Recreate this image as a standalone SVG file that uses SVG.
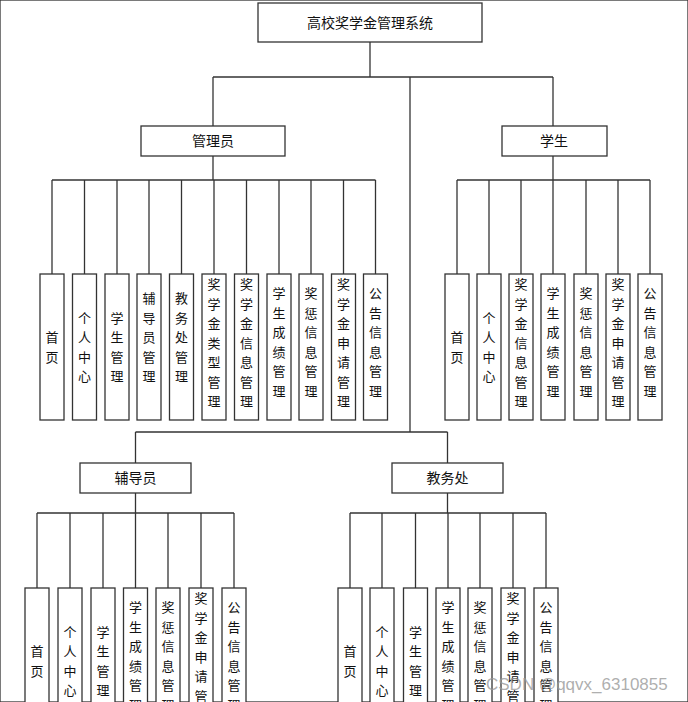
<svg xmlns="http://www.w3.org/2000/svg" width="688" height="702" viewBox="0 0 688 702">
<style>
rect{fill:#fff;stroke:#333;stroke-width:1.3}
.c line{stroke:#333;stroke-width:1.3;fill:none}
text{font-family:"Noto Sans CJK SC",sans-serif;font-size:14px;fill:#111;text-anchor:middle}
.v{font-size:13px}
</style>
<rect width="688" height="702" fill="#fff" stroke="none"/>
<g class="c">
<line x1="370" y1="42" x2="370" y2="77"/>
<line x1="213" y1="77" x2="553" y2="77"/>
<line x1="213" y1="77" x2="213" y2="126"/>
<line x1="553" y1="77" x2="553" y2="126"/>
<line x1="410" y1="77" x2="410" y2="432"/>
<line x1="213" y1="156" x2="213" y2="180"/>
<line x1="52" y1="180" x2="375.5" y2="180"/>
<line x1="553" y1="156" x2="553" y2="180"/>
<line x1="457" y1="180" x2="650" y2="180"/>
<line x1="135.5" y1="432" x2="447.5" y2="432"/>
<line x1="135.5" y1="432" x2="135.5" y2="463"/>
<line x1="447.5" y1="432" x2="447.5" y2="463"/>
<line x1="135.5" y1="493" x2="135.5" y2="513"/>
<line x1="37" y1="513" x2="234" y2="513"/>
<line x1="447.5" y1="493" x2="447.5" y2="513"/>
<line x1="350" y1="513" x2="546" y2="513"/>
<line x1="52" y1="180" x2="52" y2="274"/><line x1="84.5" y1="180" x2="84.5" y2="274"/><line x1="117" y1="180" x2="117" y2="274"/><line x1="149" y1="180" x2="149" y2="274"/><line x1="181.5" y1="180" x2="181.5" y2="274"/><line x1="214" y1="180" x2="214" y2="274"/><line x1="246.5" y1="180" x2="246.5" y2="274"/><line x1="279" y1="180" x2="279" y2="274"/><line x1="311" y1="180" x2="311" y2="274"/><line x1="343.5" y1="180" x2="343.5" y2="274"/><line x1="375.5" y1="180" x2="375.5" y2="274"/>
<line x1="457" y1="180" x2="457" y2="274"/><line x1="489" y1="180" x2="489" y2="274"/><line x1="521" y1="180" x2="521" y2="274"/><line x1="553" y1="180" x2="553" y2="274"/><line x1="586" y1="180" x2="586" y2="274"/><line x1="618" y1="180" x2="618" y2="274"/><line x1="650" y1="180" x2="650" y2="274"/>
<line x1="37" y1="513" x2="37" y2="588"/><line x1="70" y1="513" x2="70" y2="588"/><line x1="103" y1="513" x2="103" y2="588"/><line x1="135.5" y1="513" x2="135.5" y2="588"/><line x1="168" y1="513" x2="168" y2="588"/><line x1="201" y1="513" x2="201" y2="588"/><line x1="234" y1="513" x2="234" y2="588"/>
<line x1="350" y1="513" x2="350" y2="588"/><line x1="382" y1="513" x2="382" y2="588"/><line x1="415.5" y1="513" x2="415.5" y2="588"/><line x1="448" y1="513" x2="448" y2="588"/><line x1="480" y1="513" x2="480" y2="588"/><line x1="513" y1="513" x2="513" y2="588"/><line x1="546" y1="513" x2="546" y2="588"/>
</g>
<g id="root"><rect x="258" y="3" width="224" height="39"/><text x="370" y="28">高校奖学金管理系统</text></g>
<g id="admin"><rect x="141" y="126" width="144" height="30"/><text x="213" y="146">管理员</text></g>
<g id="student"><rect x="502" y="126" width="105" height="30"/><text x="554" y="146">学生</text></g>
<g id="counselor"><rect x="80" y="463" width="111" height="30"/><text x="135.5" y="483">辅导员</text></g>
<g id="office"><rect x="392" y="463" width="111" height="30"/><text x="447.5" y="483">教务处</text></g>

<g id="admin-leaves">
<g id="a1"><rect x="40" y="274" width="24" height="146"/><text class="v"><tspan x="52" y="342">首</tspan><tspan x="52" dy="19.5">页</tspan></text></g>
<g id="a2"><rect x="72.5" y="274" width="24" height="146"/><text class="v"><tspan x="84.5" y="322.5">个</tspan><tspan x="84.5" dy="19.5">人</tspan><tspan x="84.5" dy="19.5">中</tspan><tspan x="84.5" dy="19.5">心</tspan></text></g>
<g id="a3"><rect x="105" y="274" width="24" height="146"/><text class="v"><tspan x="117" y="322.5">学</tspan><tspan x="117" dy="19.5">生</tspan><tspan x="117" dy="19.5">管</tspan><tspan x="117" dy="19.5">理</tspan></text></g>
<g id="a4"><rect x="137" y="274" width="24" height="146"/><text class="v"><tspan x="149" y="303">辅</tspan><tspan x="149" dy="19.5">导</tspan><tspan x="149" dy="19.5">员</tspan><tspan x="149" dy="19.5">管</tspan><tspan x="149" dy="19.5">理</tspan></text></g>
<g id="a5"><rect x="169.5" y="274" width="24" height="146"/><text class="v"><tspan x="181.5" y="303">教</tspan><tspan x="181.5" dy="19.5">务</tspan><tspan x="181.5" dy="19.5">处</tspan><tspan x="181.5" dy="19.5">管</tspan><tspan x="181.5" dy="19.5">理</tspan></text></g>
<g id="a6"><rect x="202" y="274" width="24" height="146"/><text class="v"><tspan x="214" y="289">奖</tspan><tspan x="214" dy="19.5">学</tspan><tspan x="214" dy="19.5">金</tspan><tspan x="214" dy="19.5">类</tspan><tspan x="214" dy="19.5">型</tspan><tspan x="214" dy="19.5">管</tspan><tspan x="214" dy="19.5">理</tspan></text></g>
<g id="a7"><rect x="234.5" y="274" width="24" height="146"/><text class="v"><tspan x="246.5" y="289">奖</tspan><tspan x="246.5" dy="19.5">学</tspan><tspan x="246.5" dy="19.5">金</tspan><tspan x="246.5" dy="19.5">信</tspan><tspan x="246.5" dy="19.5">息</tspan><tspan x="246.5" dy="19.5">管</tspan><tspan x="246.5" dy="19.5">理</tspan></text></g>
<g id="a8"><rect x="267" y="274" width="24" height="146"/><text class="v"><tspan x="279" y="298">学</tspan><tspan x="279" dy="19.5">生</tspan><tspan x="279" dy="19.5">成</tspan><tspan x="279" dy="19.5">绩</tspan><tspan x="279" dy="19.5">管</tspan><tspan x="279" dy="19.5">理</tspan></text></g>
<g id="a9"><rect x="299" y="274" width="24" height="146"/><text class="v"><tspan x="311" y="298">奖</tspan><tspan x="311" dy="19.5">惩</tspan><tspan x="311" dy="19.5">信</tspan><tspan x="311" dy="19.5">息</tspan><tspan x="311" dy="19.5">管</tspan><tspan x="311" dy="19.5">理</tspan></text></g>
<g id="a10"><rect x="331.5" y="274" width="24" height="146"/><text class="v"><tspan x="343.5" y="289">奖</tspan><tspan x="343.5" dy="19.5">学</tspan><tspan x="343.5" dy="19.5">金</tspan><tspan x="343.5" dy="19.5">申</tspan><tspan x="343.5" dy="19.5">请</tspan><tspan x="343.5" dy="19.5">管</tspan><tspan x="343.5" dy="19.5">理</tspan></text></g>
<g id="a11"><rect x="363.5" y="274" width="24" height="146"/><text class="v"><tspan x="375.5" y="298">公</tspan><tspan x="375.5" dy="19.5">告</tspan><tspan x="375.5" dy="19.5">信</tspan><tspan x="375.5" dy="19.5">息</tspan><tspan x="375.5" dy="19.5">管</tspan><tspan x="375.5" dy="19.5">理</tspan></text></g>
</g>

<g id="student-leaves">
<g id="s1"><rect x="445" y="274" width="24" height="146"/><text class="v"><tspan x="457" y="342">首</tspan><tspan x="457" dy="19.5">页</tspan></text></g>
<g id="s2"><rect x="477" y="274" width="24" height="146"/><text class="v"><tspan x="489" y="322.5">个</tspan><tspan x="489" dy="19.5">人</tspan><tspan x="489" dy="19.5">中</tspan><tspan x="489" dy="19.5">心</tspan></text></g>
<g id="s3"><rect x="509" y="274" width="24" height="146"/><text class="v"><tspan x="521" y="289">奖</tspan><tspan x="521" dy="19.5">学</tspan><tspan x="521" dy="19.5">金</tspan><tspan x="521" dy="19.5">信</tspan><tspan x="521" dy="19.5">息</tspan><tspan x="521" dy="19.5">管</tspan><tspan x="521" dy="19.5">理</tspan></text></g>
<g id="s4"><rect x="541" y="274" width="24" height="146"/><text class="v"><tspan x="553" y="298">学</tspan><tspan x="553" dy="19.5">生</tspan><tspan x="553" dy="19.5">成</tspan><tspan x="553" dy="19.5">绩</tspan><tspan x="553" dy="19.5">管</tspan><tspan x="553" dy="19.5">理</tspan></text></g>
<g id="s5"><rect x="574" y="274" width="24" height="146"/><text class="v"><tspan x="586" y="298">奖</tspan><tspan x="586" dy="19.5">惩</tspan><tspan x="586" dy="19.5">信</tspan><tspan x="586" dy="19.5">息</tspan><tspan x="586" dy="19.5">管</tspan><tspan x="586" dy="19.5">理</tspan></text></g>
<g id="s6"><rect x="606" y="274" width="24" height="146"/><text class="v"><tspan x="618" y="289">奖</tspan><tspan x="618" dy="19.5">学</tspan><tspan x="618" dy="19.5">金</tspan><tspan x="618" dy="19.5">申</tspan><tspan x="618" dy="19.5">请</tspan><tspan x="618" dy="19.5">管</tspan><tspan x="618" dy="19.5">理</tspan></text></g>
<g id="s7"><rect x="638" y="274" width="24" height="146"/><text class="v"><tspan x="650" y="298">公</tspan><tspan x="650" dy="19.5">告</tspan><tspan x="650" dy="19.5">信</tspan><tspan x="650" dy="19.5">息</tspan><tspan x="650" dy="19.5">管</tspan><tspan x="650" dy="19.5">理</tspan></text></g>
</g>

<g id="counselor-leaves">
<g id="c1"><rect x="25" y="588" width="24" height="146"/><text class="v"><tspan x="37" y="656">首</tspan><tspan x="37" dy="19.5">页</tspan></text></g>
<g id="c2"><rect x="58" y="588" width="24" height="146"/><text class="v"><tspan x="70" y="636.5">个</tspan><tspan x="70" dy="19.5">人</tspan><tspan x="70" dy="19.5">中</tspan><tspan x="70" dy="19.5">心</tspan></text></g>
<g id="c3"><rect x="91" y="588" width="24" height="146"/><text class="v"><tspan x="103" y="636.5">学</tspan><tspan x="103" dy="19.5">生</tspan><tspan x="103" dy="19.5">管</tspan><tspan x="103" dy="19.5">理</tspan></text></g>
<g id="c4"><rect x="123.5" y="588" width="24" height="146"/><text class="v"><tspan x="135.5" y="612">学</tspan><tspan x="135.5" dy="19.5">生</tspan><tspan x="135.5" dy="19.5">成</tspan><tspan x="135.5" dy="19.5">绩</tspan><tspan x="135.5" dy="19.5">管</tspan><tspan x="135.5" dy="19.5">理</tspan></text></g>
<g id="c5"><rect x="156" y="588" width="24" height="146"/><text class="v"><tspan x="168" y="612">奖</tspan><tspan x="168" dy="19.5">惩</tspan><tspan x="168" dy="19.5">信</tspan><tspan x="168" dy="19.5">息</tspan><tspan x="168" dy="19.5">管</tspan><tspan x="168" dy="19.5">理</tspan></text></g>
<g id="c6"><rect x="189" y="588" width="24" height="146"/><text class="v"><tspan x="201" y="603">奖</tspan><tspan x="201" dy="19.5">学</tspan><tspan x="201" dy="19.5">金</tspan><tspan x="201" dy="19.5">申</tspan><tspan x="201" dy="19.5">请</tspan><tspan x="201" dy="19.5">管</tspan><tspan x="201" dy="19.5">理</tspan></text></g>
<g id="c7"><rect x="222" y="588" width="24" height="146"/><text class="v"><tspan x="234" y="612">公</tspan><tspan x="234" dy="19.5">告</tspan><tspan x="234" dy="19.5">信</tspan><tspan x="234" dy="19.5">息</tspan><tspan x="234" dy="19.5">管</tspan><tspan x="234" dy="19.5">理</tspan></text></g>
</g>

<g id="office-leaves">
<g id="o1"><rect x="338" y="588" width="24" height="146"/><text class="v"><tspan x="350" y="656">首</tspan><tspan x="350" dy="19.5">页</tspan></text></g>
<g id="o2"><rect x="370" y="588" width="24" height="146"/><text class="v"><tspan x="382" y="636.5">个</tspan><tspan x="382" dy="19.5">人</tspan><tspan x="382" dy="19.5">中</tspan><tspan x="382" dy="19.5">心</tspan></text></g>
<g id="o3"><rect x="403.5" y="588" width="24" height="146"/><text class="v"><tspan x="415.5" y="636.5">学</tspan><tspan x="415.5" dy="19.5">生</tspan><tspan x="415.5" dy="19.5">管</tspan><tspan x="415.5" dy="19.5">理</tspan></text></g>
<g id="o4"><rect x="436" y="588" width="24" height="146"/><text class="v"><tspan x="448" y="612">学</tspan><tspan x="448" dy="19.5">生</tspan><tspan x="448" dy="19.5">成</tspan><tspan x="448" dy="19.5">绩</tspan><tspan x="448" dy="19.5">管</tspan><tspan x="448" dy="19.5">理</tspan></text></g>
<g id="o5"><rect x="468" y="588" width="24" height="146"/><text class="v"><tspan x="480" y="612">奖</tspan><tspan x="480" dy="19.5">惩</tspan><tspan x="480" dy="19.5">信</tspan><tspan x="480" dy="19.5">息</tspan><tspan x="480" dy="19.5">管</tspan><tspan x="480" dy="19.5">理</tspan></text></g>
<g id="o6"><rect x="501" y="588" width="24" height="146"/><text class="v"><tspan x="513" y="603">奖</tspan><tspan x="513" dy="19.5">学</tspan><tspan x="513" dy="19.5">金</tspan><tspan x="513" dy="19.5">申</tspan><tspan x="513" dy="19.5">请</tspan><tspan x="513" dy="19.5">管</tspan><tspan x="513" dy="19.5">理</tspan></text></g>
<g id="o7"><rect x="534" y="588" width="24" height="146"/><text class="v"><tspan x="546" y="612">公</tspan><tspan x="546" dy="19.5">告</tspan><tspan x="546" dy="19.5">信</tspan><tspan x="546" dy="19.5">息</tspan><tspan x="546" dy="19.5">管</tspan><tspan x="546" dy="19.5">理</tspan></text></g>
</g>
<text x="486" y="690" style="font-family:'Liberation Sans',sans-serif;font-size:17px;fill:#999;fill-opacity:0.8;text-anchor:start">CSDN @qqvx_6310855</text>
</svg>
